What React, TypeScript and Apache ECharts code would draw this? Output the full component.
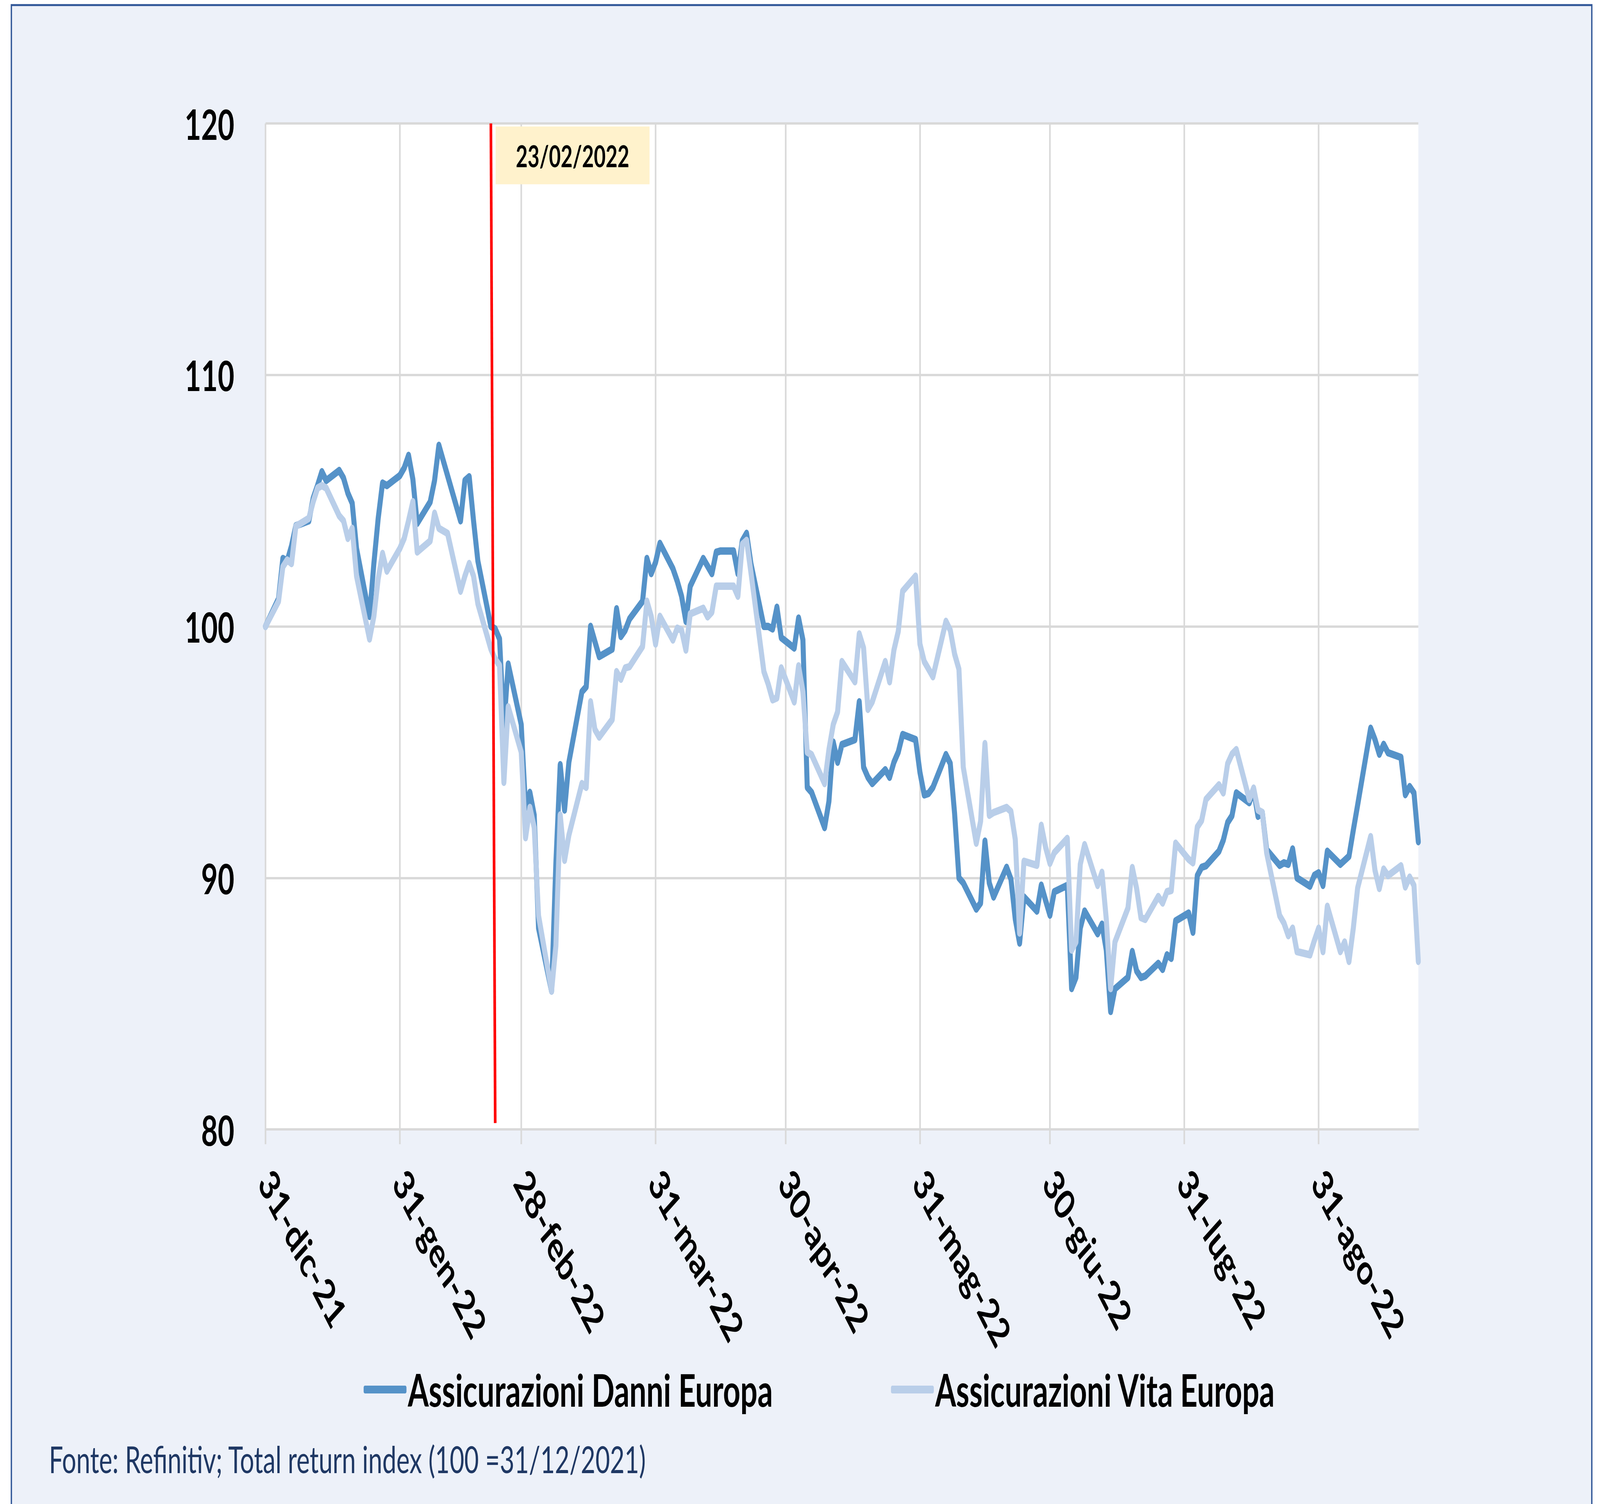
import React, { useEffect, useRef } from "react";
import * as echarts from "echarts";

// ---------- data ----------
const startDate = "2021-12-31";
const endDate = "2022-09-23";

const xTickDates = ["2021-12-31", "2022-01-31", "2022-02-28", "2022-03-31", "2022-04-30", "2022-05-31", "2022-06-30", "2022-07-31", "2022-08-31"];
const xTickLabels = ["31-dic-21", "31-gen-22", "28-feb-22", "31-mar-22", "30-apr-22", "31-mag-22", "30-giu-22", "31-lug-22", "31-ago-22"];

const yMin = 80;
const yMax = 120;
const yStep = 10;

const seriesNames = ["Assicurazioni Danni Europa", "Assicurazioni Vita Europa"];

// one value per trading day (Mon-Fri) from 31-dic-21 to 23-set-22
const danniValues = [
  100.0,
  // gen
  101.1, 102.7, 102.6, 103.2, 104.0, 104.2, 105.1, 105.6, 106.15, 105.8, 106.2, 105.9, 105.3, 104.9, 103.1, 100.4, 102.5, 104.3, 105.7, 105.6, 106.0,
  // feb
  106.3, 106.8, 105.85, 104.1, 104.95, 105.8, 107.2, 106.6, 106.0, 104.2, 105.8, 105.95, 104.2, 102.6, 100.0, 99.9, 99.5, 96.0, 98.5, 96.1,
  // mar
  92.8, 93.4, 92.5, 88.0, 85.5, 90.6, 94.5, 92.7, 94.6, 97.4, 97.6, 100.0, 99.4, 98.8, 99.1, 100.7, 99.6, 99.85, 100.3, 101.0, 102.7, 102.1, 102.55,
  // apr
  103.3, 102.3, 101.8, 101.2, 100.2, 101.6, 102.7, 102.4, 102.1, 102.95, 103.0, 103.0, 102.1, 103.4, 103.7, 102.5, 100.0, 100.0, 99.9, 100.76, 99.55,
  // mag
  99.14, 100.33, 99.46, 93.6, 93.4, 92.0, 93.04, 95.4, 94.6, 95.3, 95.5, 97.0, 94.4, 94.0, 93.75, 94.3, 94.0, 94.6, 95.0, 95.7, 95.5, 94.2,
  // giu
  93.3, 93.36, 93.6, 94.9, 94.55, 92.56, 90.0, 89.8, 88.76, 89.0, 91.46, 89.8, 89.24, 90.42, 89.95, 88.36, 87.41, 89.24, 88.68, 89.71, 89.1, 88.52,
  // lug
  89.45, 89.7, 85.6, 86.04, 88.0, 88.68, 87.78, 88.16, 87.13, 84.69, 85.59, 86.04, 87.07, 86.3, 86.04, 86.1, 86.6, 86.36, 86.94, 86.8, 88.29,
  // ago
  88.6, 87.84, 90.09, 90.42, 90.48, 91.06, 91.5, 92.2, 92.47, 93.38, 92.99, 93.5, 92.45, 92.6, 91.12, 90.5, 90.6, 90.54, 91.15, 90.0, 89.67, 90.1, 90.2,
  // set
  89.7, 91.06, 90.54, 90.7, 90.86, 91.9, 92.9, 95.95, 95.5, 94.92, 95.31, 94.98, 94.79, 93.31, 93.63, 93.38, 91.44,
];

const vitaValues = [
  100.0,
  // gen
  101.0, 102.37, 102.64, 102.5, 103.98, 104.3, 104.96, 105.5, 105.6, 105.5, 104.4, 104.2, 103.5, 103.9, 102.0, 99.5, 100.4, 101.9, 102.9, 102.2, 103.1,
  // feb
  103.5, 104.2, 104.96, 102.96, 103.4, 104.5, 103.9, 103.8, 103.7, 101.4, 102.0, 102.5, 102.0, 100.9, 99.1, 98.7, 98.45, 93.8, 96.8, 95.0,
  // mar
  91.6, 92.8, 92.0, 88.5, 85.5, 87.3, 92.5, 90.7, 91.7, 93.75, 93.6, 97.0, 95.9, 95.6, 96.3, 98.2, 97.9, 98.35, 98.4, 99.2, 101.0, 100.4, 99.3,
  // apr
  100.4, 99.46, 99.93, 99.85, 99.06, 100.5, 100.72, 100.38, 100.57, 101.6, 101.6, 101.6, 101.2, 103.26, 103.42, 102.15, 98.2, 97.7, 97.08, 97.16, 98.35,
  // mag
  97.0, 98.43, 97.4, 95.0, 94.9, 93.75, 95.1, 96.1, 96.6, 98.6, 97.8, 99.7, 99.14, 96.7, 97.0, 98.6, 97.8, 99.06, 99.8, 101.4, 102.0, 99.3,
  // giu
  98.6, 98.3, 98.0, 100.2, 99.85, 98.9, 98.3, 94.4, 91.38, 92.25, 95.34, 92.49, 92.6, 92.8, 92.64, 91.53, 87.81, 90.66, 90.5, 92.09, 91.22, 90.58,
  // lug
  91.0, 91.57, 87.13, 87.45, 90.54, 91.32, 89.7, 90.22, 88.36, 85.6, 87.45, 88.8, 90.41, 89.58, 88.42, 88.35, 89.26, 89.0, 89.45, 89.5, 91.38,
  // ago
  90.74, 90.6, 92.02, 92.28, 93.12, 93.7, 93.38, 94.54, 94.92, 95.1, 93.12, 93.57, 92.7, 92.6, 91.0, 88.5, 88.2, 87.7, 88.0, 87.07, 86.94, 87.5, 88.0,
  // set
  87.07, 88.87, 87.07, 87.45, 86.68, 88.0, 89.6, 91.64, 90.3, 89.58, 90.35, 90.09, 90.48, 89.64, 90.03, 89.7, 86.68,
];

// event annotation (vertical red line, drawn slightly slanted as in the source)
const eventLabel = "23/02/2022";
const eventLineTop = ["2022-02-21", 120];
const eventLineBottom = ["2022-02-22", 80.25];
const eventBoxAnchor = ["2022-03-11", 118.73];

const sourceText = "Fonte: Refinitiv; Total return index (100 =31/12/2021)";

// ---------- helpers ----------
function buildDays(start: string, end: string): string[] {
  const out: string[] = [];
  const d = new Date(start + "T00:00:00Z");
  const e = new Date(end + "T00:00:00Z");
  while (d.getTime() <= e.getTime()) {
    out.push(d.toISOString().slice(0, 10));
    d.setUTCDate(d.getUTCDate() + 1);
  }
  return out;
}

const days = buildDays(startDate, endDate);
const tradingDays = days.filter((s) => {
  const wd = new Date(s + "T00:00:00Z").getUTCDay();
  return wd !== 0 && wd !== 6;
});

function toSeries(values: number[]) {
  const m = new Map<string, number>();
  tradingDays.forEach((d, i) => {
    if (i < values.length) m.set(d, values[i]);
  });
  return days.map((d) => (m.has(d) ? m.get(d)! : null));
}

const tickSet = new Set(xTickDates);
const labelMap: Record<string, string> = {};
xTickDates.forEach((d, i) => (labelMap[d] = xTickLabels[i]));

const FONT = "Lato";
const GRID_COLOR = "#D9D9D9";
const DANNI_COLOR = "#5592C8";
const VITA_COLOR = "#B9CEE9";

const DESIGN_W = 6050;
const DESIGN_H = 3850;

export default function App() {
  const ref = useRef<HTMLDivElement>(null);

  const vw = (typeof window !== "undefined" && window.innerWidth) || DESIGN_W;
  const vh = (typeof window !== "undefined" && window.innerHeight) || DESIGN_H;
  const sx = Math.min(1, vw / DESIGN_W);
  const sy = Math.min(1, vh / DESIGN_H);

  useEffect(() => {
    document.body.style.margin = "0";
    document.body.style.overflow = "hidden";
    if (!ref.current) return;
    const chart = echarts.init(ref.current, undefined, { renderer: "svg" });

    const legendText = {
      fontSize: 114,
      fontWeight: "bold",
      color: "#000000",
      fontFamily: FONT,
      lineHeight: 130,
    };

    const option: any = {
      animation: false,
      backgroundColor: "#FFFFFF",
      textStyle: { fontFamily: FONT },
      grid: {
        left: 1004,
        right: 687,
        top: 316,
        bottom: 959,
        show: true,
        backgroundColor: "#FFFFFF",
        borderWidth: 0,
      },
      xAxis: {
        type: "category",
        data: days,
        boundaryGap: false,
        axisLine: { show: true, lineStyle: { color: GRID_COLOR, width: 6 } },
        axisTick: {
          show: true,
          interval: (_i: number, v: string) => tickSet.has(v),
          length: 38,
          lineStyle: { color: GRID_COLOR, width: 6 },
        },
        axisLabel: {
          interval: (_i: number, v: string) => tickSet.has(v),
          formatter: (v: string) => labelMap[v] || "",
          rotate: -53,
          margin: 115,
          fontSize: 108,
          fontWeight: "bold",
          fontFamily: FONT,
          color: "#000000",
        },
        splitLine: {
          show: true,
          interval: (_i: number, v: string) => tickSet.has(v),
          lineStyle: { color: GRID_COLOR, width: 6 },
        },
      },
      yAxis: {
        type: "value",
        min: yMin,
        max: yMax,
        interval: yStep,
        axisLine: { show: false },
        axisTick: { show: false },
        axisLabel: {
          margin: 118,
          fontSize: 108,
          fontWeight: "bold",
          fontFamily: FONT,
          color: "#000000",
        },
        splitLine: { show: true, lineStyle: { color: GRID_COLOR, width: 6 } },
      },
      legend: [
        {
          data: [seriesNames[0]],
          left: 1370,
          top: 3487,
          icon: "roundRect",
          itemWidth: 162,
          itemHeight: 20,
          selectedMode: false,
          textStyle: legendText,
        },
        {
          data: [seriesNames[1]],
          left: 3364,
          top: 3487,
          icon: "roundRect",
          itemWidth: 162,
          itemHeight: 20,
          selectedMode: false,
          textStyle: legendText,
        },
      ],
      graphic: [
        {
          type: "rect",
          z: -100,
          silent: true,
          shape: { x: 43, y: 13, width: 5976, height: 3870 },
          style: { fill: "#EDF1F9", stroke: "#2F5597", lineWidth: 5 },
        },
        {
          type: "text",
          x: 185,
          y: 3734,
          silent: true,
          style: {
            text: sourceText,
            fill: "#1F3864",
            font: `95px ${FONT}`,
            verticalAlign: "middle",
          },
        },
      ],
      series: [
        {
          name: seriesNames[0],
          type: "line",
          data: toSeries(danniValues),
          connectNulls: true,
          showSymbol: false,
          symbol: "none",
          lineStyle: { color: DANNI_COLOR, width: 19, join: "round", cap: "round" },
          itemStyle: { color: DANNI_COLOR },
          markPoint: {
            silent: true,
            data: [
              {
                coord: eventBoxAnchor,
                symbol: "rect",
                symbolSize: [582, 148],
                symbolOffset: [14, 0],
                itemStyle: { color: "#FFF2CC" },
                label: {
                  show: true,
                  position: "inside",
                  formatter: eventLabel,
                  fontSize: 77,
                  fontWeight: "bold",
                  fontFamily: FONT,
                  color: "#000000",
                },
              },
            ],
          },
        },
        {
          name: seriesNames[1],
          type: "line",
          data: toSeries(vitaValues),
          connectNulls: true,
          showSymbol: false,
          symbol: "none",
          lineStyle: { color: VITA_COLOR, width: 19, join: "round", cap: "round" },
          itemStyle: { color: VITA_COLOR },
          markLine: {
            silent: true,
            symbol: ["none", "none"],
            label: { show: false },
            lineStyle: { color: "#FF0000", width: 10, type: "solid" },
            data: [[{ coord: eventLineTop }, { coord: eventLineBottom }]],
          },
        },
      ],
    };

    chart.setOption(option);
    return () => chart.dispose();
  }, []);

  return (
    <div
      style={{
        width: Math.round(DESIGN_W * sx),
        height: Math.round(DESIGN_H * sy),
        overflow: "hidden",
        position: "relative",
      }}
    >
      <div
        ref={ref}
        style={{
          width: DESIGN_W,
          height: DESIGN_H,
          transform: `scale(${sx}, ${sy})`,
          transformOrigin: "0 0",
        }}
      />
    </div>
  );
}
